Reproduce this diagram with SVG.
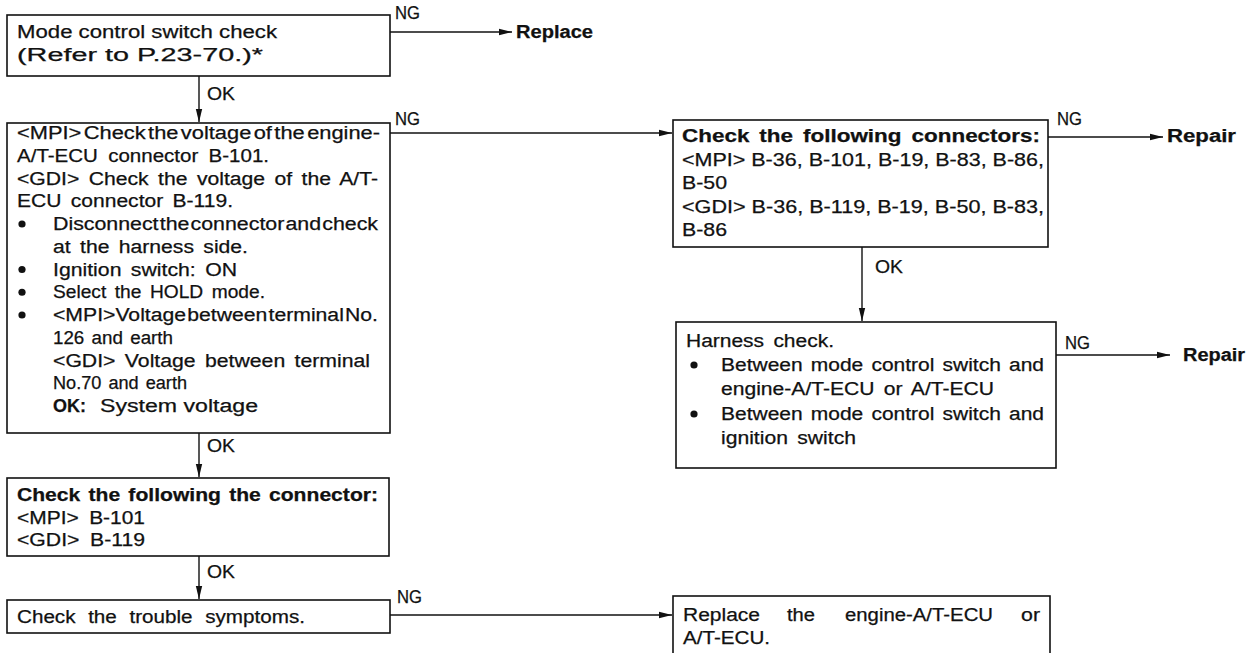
<svg xmlns="http://www.w3.org/2000/svg" width="1248" height="653" viewBox="0 0 1248 653">
<style>
.t{font-family:"Liberation Sans",Arial,Helvetica,sans-serif;font-size:18px;fill:#111;stroke:#111;stroke-width:0.25}
.b{font-weight:bold}
.box{fill:#fff;stroke:#111;stroke-width:1.6}
.ln{stroke:#111;stroke-width:1.4;fill:none}
.dot{fill:#111}
</style>
<defs>
<marker id="ah" markerUnits="userSpaceOnUse" markerWidth="14" markerHeight="8" refX="13" refY="4" orient="auto">
<path d="M0,0.8 L13,4 L0,7.2 Z" fill="#111"/>
</marker>
</defs>
<rect width="1248" height="653" fill="#fff"/>

<g id="connectors">
<line class="ln" x1="390" y1="32" x2="512" y2="32" marker-end="url(#ah)"/>
<line class="ln" x1="199" y1="76" x2="199" y2="122" marker-end="url(#ah)"/>
<line class="ln" x1="390" y1="133" x2="672" y2="133" marker-end="url(#ah)"/>
<line class="ln" x1="1048" y1="137" x2="1163" y2="137" marker-end="url(#ah)"/>
<line class="ln" x1="862" y1="247" x2="862" y2="321" marker-end="url(#ah)"/>
<line class="ln" x1="1056" y1="355" x2="1170" y2="355" marker-end="url(#ah)"/>
<line class="ln" x1="199" y1="433" x2="199" y2="477" marker-end="url(#ah)"/>
<line class="ln" x1="199" y1="556" x2="199" y2="599" marker-end="url(#ah)"/>
<line class="ln" x1="390" y1="615" x2="672" y2="615" marker-end="url(#ah)"/>
<text class="t" x="395" y="19" textLength="25" lengthAdjust="spacingAndGlyphs">NG</text>
<text class="t" x="207" y="100" textLength="28" lengthAdjust="spacingAndGlyphs">OK</text>
<text class="t" x="395" y="125" textLength="25" lengthAdjust="spacingAndGlyphs">NG</text>
<text class="t" x="1057" y="125" textLength="25" lengthAdjust="spacingAndGlyphs">NG</text>
<text class="t" x="875" y="273" textLength="28" lengthAdjust="spacingAndGlyphs">OK</text>
<text class="t" x="1065" y="349" textLength="25" lengthAdjust="spacingAndGlyphs">NG</text>
<text class="t" x="207" y="452" textLength="28" lengthAdjust="spacingAndGlyphs">OK</text>
<text class="t" x="207" y="578" textLength="28" lengthAdjust="spacingAndGlyphs">OK</text>
<text class="t" x="397" y="603" textLength="25" lengthAdjust="spacingAndGlyphs">NG</text>
</g>

<g id="replace">
<text class="t b" x="516" y="38" textLength="77" lengthAdjust="spacingAndGlyphs">Replace</text>
</g>
<g id="repair1">
<text class="t b" x="1167" y="142" textLength="69" lengthAdjust="spacingAndGlyphs">Repair</text>
</g>
<g id="repair2">
<text class="t b" x="1183" y="361" textLength="62" lengthAdjust="spacingAndGlyphs">Repair</text>
</g>

<g id="n1">
<rect class="box" x="7" y="15" width="383" height="61"/>
<text class="t" x="17" y="38" textLength="260" lengthAdjust="spacingAndGlyphs">Mode control switch check</text>
<text class="t" x="17" y="61" textLength="246" lengthAdjust="spacingAndGlyphs">(Refer to P.23-70.)*</text>
</g>

<g id="n2">
<rect class="box" x="7" y="123" width="383" height="310"/>
<text class="t" x="17" y="139" textLength="363" lengthAdjust="spacingAndGlyphs" word-spacing="-3">&lt;MPI&gt; Check the voltage of the engine-</text>
<text class="t" x="17" y="161.75" textLength="252" lengthAdjust="spacingAndGlyphs" word-spacing="4">A/T-ECU connector B-101.</text>
<text class="t" x="17" y="184.5" textLength="361" lengthAdjust="spacingAndGlyphs" word-spacing="3">&lt;GDI&gt; Check the voltage of the A/T-</text>
<text class="t" x="17" y="207.25" textLength="216" lengthAdjust="spacingAndGlyphs" word-spacing="3">ECU connector B-119.</text>
<circle class="dot" cx="22" cy="224" r="3.6"/>
<text class="t" x="53" y="230" textLength="325" lengthAdjust="spacingAndGlyphs" word-spacing="-4">Disconnect the connector and check</text>
<text class="t" x="53" y="252.75" textLength="195" lengthAdjust="spacingAndGlyphs" word-spacing="3">at the harness side.</text>
<circle class="dot" cx="22" cy="269.5" r="3.6"/>
<text class="t" x="53" y="275.5" textLength="184" lengthAdjust="spacingAndGlyphs" word-spacing="3">Ignition switch: ON</text>
<circle class="dot" cx="22" cy="292.25" r="3.6"/>
<text class="t" x="53" y="298.25" textLength="212" lengthAdjust="spacingAndGlyphs" word-spacing="3">Select the HOLD mode.</text>
<circle class="dot" cx="22" cy="315" r="3.6"/>
<text class="t" x="53" y="321" textLength="325" lengthAdjust="spacingAndGlyphs" word-spacing="-4">&lt;MPI&gt;Voltage between terminal No.</text>
<text class="t" x="53" y="343.75" textLength="120" lengthAdjust="spacingAndGlyphs" word-spacing="2">126 and earth</text>
<text class="t" x="53" y="366.5" textLength="317" lengthAdjust="spacingAndGlyphs" word-spacing="3">&lt;GDI&gt; Voltage between terminal</text>
<text class="t" x="53" y="389.25" textLength="134" lengthAdjust="spacingAndGlyphs" word-spacing="2">No.70 and earth</text>
<text class="t" x="53" y="412"><tspan class="b" textLength="33" lengthAdjust="spacingAndGlyphs">OK:</tspan><tspan x="100" textLength="158" lengthAdjust="spacingAndGlyphs">System voltage</tspan></text>
</g>

<g id="n3">
<rect class="box" x="673" y="120" width="375" height="127"/>
<text class="t b" x="682" y="142" textLength="358" lengthAdjust="spacingAndGlyphs" word-spacing="3">Check the following connectors:</text>
<text class="t" x="682" y="165.5" textLength="362" lengthAdjust="spacingAndGlyphs">&lt;MPI&gt; B-36, B-101, B-19, B-83, B-86,</text>
<text class="t" x="682" y="189" textLength="45" lengthAdjust="spacingAndGlyphs">B-50</text>
<text class="t" x="682" y="212.5" textLength="362" lengthAdjust="spacingAndGlyphs">&lt;GDI&gt; B-36, B-119, B-19, B-50, B-83,</text>
<text class="t" x="682" y="236" textLength="45" lengthAdjust="spacingAndGlyphs">B-86</text>
</g>

<g id="n4">
<rect class="box" x="676" y="322" width="380" height="146"/>
<text class="t" x="686" y="347" textLength="148" lengthAdjust="spacingAndGlyphs" word-spacing="3">Harness check.</text>
<circle class="dot" cx="694" cy="365" r="3.6"/>
<text class="t" x="721" y="371" textLength="323" lengthAdjust="spacingAndGlyphs" word-spacing="2">Between mode control switch and</text>
<text class="t" x="721" y="395" textLength="273" lengthAdjust="spacingAndGlyphs" word-spacing="3">engine-A/T-ECU or A/T-ECU</text>
<circle class="dot" cx="694" cy="414" r="3.6"/>
<text class="t" x="721" y="420" textLength="323" lengthAdjust="spacingAndGlyphs" word-spacing="2">Between mode control switch and</text>
<text class="t" x="721" y="444" textLength="135" lengthAdjust="spacingAndGlyphs" word-spacing="3">ignition switch</text>
</g>

<g id="n5">
<rect class="box" x="7" y="478" width="382" height="78"/>
<text class="t b" x="17" y="501" textLength="361" lengthAdjust="spacingAndGlyphs" word-spacing="2">Check the following the connector:</text>
<text class="t" x="17" y="523.5" textLength="128" lengthAdjust="spacingAndGlyphs" word-spacing="4">&lt;MPI&gt; B-101</text>
<text class="t" x="17" y="546" textLength="128" lengthAdjust="spacingAndGlyphs" word-spacing="4">&lt;GDI&gt; B-119</text>
</g>

<g id="n6">
<rect class="box" x="7" y="600" width="383" height="33"/>
<text class="t" x="17" y="623" textLength="288" lengthAdjust="spacingAndGlyphs" word-spacing="6">Check the trouble symptoms.</text>
</g>

<g id="n7">
<rect class="box" x="673" y="596" width="377" height="80"/>
<text class="t" x="683" y="620.5"><tspan textLength="77" lengthAdjust="spacingAndGlyphs">Replace</tspan><tspan x="787" textLength="28" lengthAdjust="spacingAndGlyphs">the</tspan><tspan x="845" textLength="148" lengthAdjust="spacingAndGlyphs">engine-A/T-ECU</tspan><tspan x="1021" textLength="19" lengthAdjust="spacingAndGlyphs">or</tspan></text>
<text class="t" x="683" y="644" textLength="87" lengthAdjust="spacingAndGlyphs">A/T-ECU.</text>
</g>
</svg>
